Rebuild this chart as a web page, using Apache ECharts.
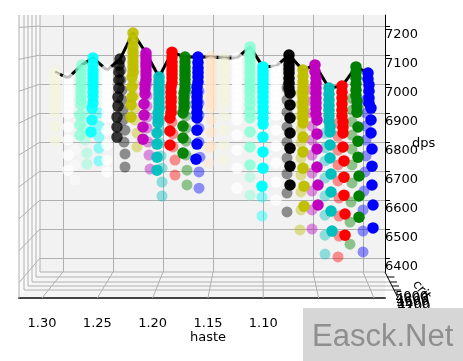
<!DOCTYPE html>
<html>
<head>
<meta charset="utf-8">
<style>
  html, body { margin: 0; padding: 0; background: #fff; }
  #chart { width: 463px; height: 361px; }
</style>
<script src="https://cdn.jsdelivr.net/npm/echarts@6/dist/echarts.min.js"></script>
</head>
<body>
<div id="chart"></div>
<script>
const hasteTicks = [1.3, 1.25, 1.2, 1.15, 1.1, 1.05, 1.0];
const dpsTicks = [6400, 6500, 6600, 6700, 6800, 6900, 7000, 7100, 7200];
const critTicks = ['5000', '4800', '4600', '4400', '4200'];

const columnColors = [
  '#f5f5dc', '#ffffff', '#7fffd4', '#00ffff', '#ffffff', '#000000', '#bfbf00', '#bf00bf', '#00bfbf',
  '#ff0000', '#008000', '#0000ff', '#ffe4c4', '#f5f5dc', '#ffffff', '#7fffd4', '#00ffff', '#ffffff',
  '#000000', '#bfbf00', '#bf00bf', '#00bfbf', '#ff0000', '#008000', '#0000ff'
];
const columnAlpha = [
  0.7, 0.75, 0.75, 0.9, 0.75, 0.78, 0.92, 0.95, 0.95, 1, 0.95, 1, 0.65,
  0.65, 0.75, 0.8, 1, 0.75, 0.98, 0.98, 1, 1, 1, 1, 1
];

// nearest points of each column, lowest first, the last one is the column's peak
const frontPoints = [
  [[1.308, 6807], [1.308, 6855], [1.308, 6903], [1.308, 6930], [1.308, 6952], [1.308, 6975], [1.308, 6997], [1.308, 7020], [1.308, 7041]],
  [[1.295, 6703], [1.295, 6755], [1.295, 6807], [1.295, 6852], [1.295, 6897], [1.295, 6918], [1.295, 6938], [1.295, 6958], [1.295, 6979], [1.295, 7000], [1.295, 7021]],
  [[1.283, 6824], [1.283, 6859], [1.283, 6893], [1.282, 6928], [1.282, 6945], [1.282, 6962], [1.282, 6980], [1.282, 6997], [1.282, 7014], [1.282, 7031], [1.282, 7048], [1.281, 7066]],
  [[1.272, 6835], [1.271, 6876], [1.271, 6917], [1.27, 6936], [1.27, 6955], [1.27, 6972], [1.27, 6990], [1.27, 7005], [1.27, 7021], [1.27, 7035], [1.27, 7048], [1.27, 7069], [1.27, 7090]],
  [[1.256, 6697], [1.256, 6738], [1.256, 6790], [1.256, 6841], [1.256, 6883], [1.256, 6904], [1.256, 6924], [1.256, 6945], [1.256, 6966], [1.256, 6986], [1.256, 7007], [1.256, 7028], [1.256, 7048]],
  [[1.246, 6817], [1.246, 6852], [1.246, 6886], [1.245, 6924], [1.245, 6955], [1.244, 6986], [1.244, 7014], [1.244, 7041], [1.244, 7066], [1.243, 7086]],
  [[1.232, 6886], [1.232, 6928], [1.231, 6955], [1.231, 6990], [1.231, 7024], [1.23, 7042], [1.23, 7059], [1.23, 7076], [1.23, 7093], [1.23, 7110], [1.23, 7128], [1.23, 7152], [1.23, 7176]],
  [[1.22, 6810], [1.22, 6852], [1.219, 6893], [1.219, 6931], [1.218, 6966], [1.218, 6984], [1.218, 7000], [1.217, 7016], [1.217, 7031], [1.217, 7045], [1.217, 7059], [1.217, 7071], [1.217, 7083], [1.217, 7095], [1.217, 7107]],
  [[1.206, 6703], [1.206, 6748], [1.206, 6793], [1.206, 6831], [1.205, 6866], [1.205, 6883], [1.205, 6900], [1.204, 6918], [1.204, 6935], [1.204, 6950], [1.204, 6966], [1.204, 6980], [1.204, 6993], [1.204, 7008], [1.204, 7024]],
  [[1.193, 6790], [1.193, 6838], [1.193, 6883], [1.192, 6902], [1.192, 6921], [1.192, 6938], [1.192, 6955], [1.192, 6972], [1.192, 6990], [1.191, 7005], [1.191, 7021], [1.191, 7035], [1.191, 7048], [1.191, 7062], [1.191, 7076], [1.191, 7093], [1.191, 7110]],
  [[1.18, 6762], [1.18, 6814], [1.18, 6855], [1.18, 6900], [1.179, 6918], [1.179, 6935], [1.179, 6952], [1.179, 6969], [1.178, 6985], [1.178, 7000], [1.178, 7016], [1.178, 7031], [1.178, 7045], [1.178, 7059], [1.178, 7076], [1.178, 7093]],
  [[1.167, 6741], [1.166, 6793], [1.166, 6841], [1.166, 6883], [1.166, 6902], [1.166, 6921], [1.166, 6938], [1.166, 6955], [1.166, 6972], [1.166, 6990], [1.165, 7007], [1.165, 7024], [1.165, 7040], [1.165, 7055], [1.165, 7074], [1.165, 7093]],
  [[1.152, 6786], [1.152, 6835], [1.152, 6876], [1.152, 6917], [1.152, 6936], [1.152, 6955], [1.152, 6972], [1.152, 6990], [1.152, 7007], [1.152, 7024], [1.152, 7042], [1.152, 7059], [1.152, 7076], [1.152, 7093]],
  [[1.139, 6738], [1.139, 6790], [1.139, 6841], [1.139, 6890], [1.139, 6931], [1.139, 6952], [1.139, 6972], [1.139, 6993], [1.139, 7014], [1.139, 7034], [1.139, 7055], [1.139, 7072], [1.139, 7090]],
  [[1.126, 6641], [1.126, 6710], [1.126, 6772], [1.126, 6824], [1.126, 6876], [1.126, 6900], [1.126, 6924], [1.126, 6945], [1.126, 6966], [1.126, 6986], [1.126, 7007], [1.126, 7028], [1.126, 7048], [1.126, 7069], [1.126, 7090]],
  [[1.113, 6721], [1.113, 6783], [1.113, 6835], [1.113, 6883], [1.113, 6905], [1.113, 6928], [1.113, 6948], [1.113, 6969], [1.113, 6986], [1.113, 7003], [1.113, 7020], [1.113, 7038], [1.113, 7055], [1.113, 7072], [1.113, 7086], [1.113, 7100], [1.113, 7114], [1.113, 7128]],
  [[1.101, 6648], [1.1, 6710], [1.1, 6766], [1.1, 6817], [1.1, 6862], [1.1, 6883], [1.1, 6903], [1.1, 6920], [1.1, 6938], [1.1, 6955], [1.1, 6972], [1.1, 6988], [1.1, 7003], [1.1, 7017], [1.1, 7031], [1.1, 7045], [1.1, 7059]],
  [[1.087, 6600], [1.087, 6662], [1.087, 6728], [1.087, 6786], [1.087, 6841], [1.087, 6893], [1.087, 6916], [1.087, 6938], [1.087, 6958], [1.087, 6979], [1.087, 7000], [1.087, 7021], [1.087, 7042], [1.087, 7062]],
  [[1.073, 6652], [1.073, 6717], [1.073, 6779], [1.073, 6831], [1.073, 6883], [1.073, 6928], [1.073, 6969], [1.074, 6986], [1.074, 7003], [1.074, 7020], [1.074, 7038], [1.074, 7052], [1.074, 7066], [1.074, 7083], [1.074, 7100]],
  [[1.059, 6579], [1.059, 6648], [1.06, 6710], [1.06, 6766], [1.06, 6817], [1.06, 6866], [1.06, 6885], [1.06, 6903], [1.06, 6920], [1.06, 6938], [1.06, 6955], [1.06, 6972], [1.06, 6990], [1.06, 7007], [1.06, 7027], [1.06, 7048]],
  [[1.045, 6583], [1.045, 6652], [1.046, 6714], [1.046, 6776], [1.046, 6828], [1.046, 6876], [1.047, 6896], [1.047, 6917], [1.047, 6935], [1.047, 6952], [1.047, 6969], [1.047, 6986], [1.047, 7003], [1.047, 7021], [1.048, 7043], [1.048, 7066]],
  [[1.031, 6493], [1.032, 6562], [1.032, 6628], [1.032, 6690], [1.033, 6745], [1.033, 6790], [1.033, 6835], [1.033, 6853], [1.034, 6872], [1.034, 6891], [1.034, 6910], [1.034, 6927], [1.034, 6945], [1.034, 6965], [1.034, 6986]],
  [[1.018, 6479], [1.018, 6552], [1.019, 6617], [1.019, 6679], [1.019, 6735], [1.02, 6783], [1.02, 6831], [1.02, 6850], [1.02, 6869], [1.021, 6890], [1.021, 6910], [1.021, 6931], [1.021, 6952], [1.021, 6972], [1.021, 6993]],
  [[1.004, 6541], [1.004, 6614], [1.004, 6683], [1.005, 6748], [1.005, 6803], [1.005, 6852], [1.006, 6903], [1.006, 6922], [1.006, 6941], [1.007, 6960], [1.007, 6979], [1.007, 7000], [1.007, 7021], [1.007, 7040], [1.007, 7059]],
  [[0.99, 6504], [0.99, 6583], [0.991, 6652], [0.991, 6717], [0.991, 6776], [0.992, 6831], [0.992, 6876], [0.992, 6917], [0.994, 6934], [0.994, 6952], [0.994, 6975], [0.994, 6997], [0.995, 7017], [0.995, 7038]]
];

// the paler points behind them
const backPoints = [
  [],
  [[1.288, 6669], [1.288, 6721], [1.288, 6772]],
  [[1.276, 6724], [1.276, 6762], [1.278, 6807], [1.278, 6848], [1.278, 6890]],
  [[1.264, 6735], [1.264, 6779], [1.264, 6817], [1.264, 6855], [1.264, 6900]],
  [],
  [[1.238, 6714], [1.238, 6759], [1.239, 6800], [1.238, 6841], [1.24, 6876], [1.24, 6910], [1.241, 6945], [1.241, 6979], [1.242, 7014], [1.242, 7048]],
  [[1.226, 6783], [1.226, 6831], [1.228, 6876], [1.228, 6917], [1.229, 6959], [1.229, 7000], [1.229, 7041]],
  [[1.213, 6707], [1.214, 6755], [1.215, 6800], [1.216, 6848], [1.216, 6886], [1.216, 6924], [1.216, 6960], [1.216, 7000]],
  [[1.201, 6614], [1.201, 6662], [1.201, 6710], [1.202, 6752], [1.203, 6797], [1.203, 6838], [1.203, 6876], [1.203, 6915]],
  [[1.188, 6686], [1.188, 6738], [1.19, 6783], [1.19, 6828], [1.191, 6869], [1.191, 6905], [1.191, 6945]],
  [[1.176, 6652], [1.176, 6703], [1.177, 6755], [1.177, 6803], [1.177, 6848], [1.177, 6890], [1.177, 6930], [1.177, 6970]],
  [[1.164, 6641], [1.164, 6697], [1.163, 6748], [1.164, 6800], [1.164, 6848], [1.164, 6893], [1.164, 6935], [1.164, 6975]],
  [[1.154, 6728], [1.154, 6779]],
  [],
  [],
  [[1.113, 6617], [1.113, 6679]],
  [[1.101, 6545], [1.101, 6610]],
  [],
  [[1.076, 6559], [1.076, 6624], [1.076, 6690], [1.076, 6745], [1.076, 6800], [1.076, 6852], [1.076, 6903], [1.076, 6945], [1.076, 6986]],
  [[1.063, 6497], [1.062, 6566], [1.062, 6628], [1.062, 6686], [1.062, 6745], [1.062, 6797], [1.062, 6845], [1.062, 6890], [1.062, 6930], [1.062, 6970]],
  [[1.051, 6500], [1.051, 6566], [1.051, 6631], [1.051, 6693], [1.051, 6755], [1.051, 6807], [1.051, 6855], [1.051, 6900], [1.051, 6940], [1.051, 6980]],
  [[1.038, 6414], [1.038, 6479], [1.038, 6548], [1.038, 6614], [1.038, 6676], [1.038, 6735], [1.038, 6780], [1.038, 6830]],
  [[1.025, 6404], [1.024, 6476], [1.024, 6545], [1.024, 6607], [1.025, 6666], [1.025, 6721], [1.025, 6772], [1.025, 6820], [1.025, 6865]],
  [[1.013, 6448], [1.013, 6524], [1.012, 6593], [1.011, 6659], [1.011, 6721], [1.011, 6776], [1.011, 6824], [1.011, 6870], [1.011, 6910], [1.011, 6950]],
  [[1.0, 6421], [1.0, 6493], [1.0, 6566], [0.999, 6631], [0.998, 6697], [0.997, 6752], [0.997, 6807], [0.997, 6855], [0.997, 6900], [0.997, 6945]]
];

const gridColor = '#b0b0b0';
const wallLeft = 40, wallRight = 385, wallTop = 15, wallBottom = 272;
const frontLeft = 19, frontBottom = 298;
const floorRows = [[36, 277], [32, 282], [28, 286], [24, 290]];

const chart = echarts.init(document.getElementById('chart'));

const series = [{
  type: 'line',
  xAxisIndex: 0,
  yAxisIndex: 0,
  data: frontPoints.map(pts => pts[pts.length - 1]),
  symbol: 'none',
  lineStyle: { color: '#000', width: 3 },
  animation: false,
  z: 2
}];
backPoints.forEach((pts, i) => {
  series.push({
    type: 'scatter',
    data: pts,
    symbolSize: 11,
    itemStyle: { color: columnColors[i], opacity: 0.42 },
    animation: false,
    silent: true,
    z: 3
  });
});
frontPoints.forEach((pts, i) => {
  series.push({
    type: 'scatter',
    data: pts,
    symbolSize: 11.5,
    itemStyle: { color: columnColors[i], opacity: columnAlpha[i] },
    animation: false,
    silent: true,
    z: 4
  });
});

chart.setOption({
  animation: false,
  textStyle: { fontFamily: 'DejaVu Sans' },
  grid: [
    { left: wallLeft, right: 463 - wallRight, top: wallTop, bottom: 361 - wallBottom },
    { left: frontLeft, right: 463 - wallRight, top: wallBottom, bottom: 361 - frontBottom }
  ],
  xAxis: [
    {
      type: 'value',
      gridIndex: 0,
      inverse: true,
      min: 0.978,
      max: 1.323,
      axisLine: { show: false },
      axisTick: { show: false, customValues: hasteTicks },
      axisLabel: { show: false, customValues: hasteTicks },
      splitLine: { show: true, lineStyle: { color: gridColor, width: 1 } }
    },
    {
      type: 'value',
      gridIndex: 1,
      inverse: true,
      min: 0.99,
      max: 1.3208,
      name: 'haste',
      nameLocation: 'middle',
      nameGap: 32,
      nameTextStyle: { color: '#000', fontSize: 13, padding: [0, 0, 0, 12] },
      axisLine: { show: true, onZero: false, lineStyle: { color: '#444', width: 2 } },
      axisTick: { show: false, customValues: hasteTicks },
      axisLabel: {
        color: '#000',
        fontSize: 13,
        margin: 19,
        customValues: hasteTicks,
        formatter: v => v.toFixed(2)
      },
      splitLine: { show: false }
    }
  ],
  yAxis: [
    {
      type: 'value',
      gridIndex: 0,
      position: 'right',
      min: 6352,
      max: 7238,
      name: 'dps',
      nameLocation: 'middle',
      nameRotate: 0,
      nameGap: 27,
      nameMoveOverlap: false,
      nameTextStyle: { color: '#000', fontSize: 13 },
      axisLine: { show: true, onZero: false, lineStyle: { color: '#000', width: 1 } },
      axisTick: { show: true, length: 5, customValues: dpsTicks, lineStyle: { color: '#000' } },
      axisLabel: {
        color: '#000',
        fontSize: 13,
        margin: 0,
        verticalAlign: 'top',
        padding: [2, 0, 0, 0],
        customValues: dpsTicks,
        formatter: v => String(v)
      },
      splitLine: { show: true, lineStyle: { color: gridColor, width: 1 } }
    },
    {
      type: 'value',
      gridIndex: 1,
      min: 0,
      max: 1,
      axisLine: { show: false },
      axisTick: { show: false },
      axisLabel: { show: false },
      splitLine: { show: false }
    }
  ],
  series: series
});

// the 3D box around the plot, hung off the two haste and the dps axes
const frame = [];
const frameLine = (x1, y1, x2, y2, color, z) => frame.push({
  type: 'line',
  silent: true,
  z: z === undefined ? 1 : z,
  shape: { x1: x1, y1: y1, x2: x2, y2: y2 },
  style: { stroke: color || gridColor, lineWidth: 1 }
});

frame.push({ type: 'polygon', silent: true, z: -2,
  shape: { points: [[frontLeft, wallTop], [wallLeft, wallTop], [wallLeft, wallBottom], [frontLeft, frontBottom]] },
  style: { fill: '#f9f9f9' } });
frame.push({ type: 'rect', silent: true, z: -2,
  shape: { x: wallLeft, y: wallTop, width: wallRight - wallLeft, height: wallBottom - wallTop },
  style: { fill: '#f2f2f2' } });
frame.push({ type: 'polygon', silent: true, z: -2,
  shape: { points: [[wallLeft, wallBottom], [wallRight, wallBottom], [wallRight, frontBottom], [frontLeft, frontBottom]] },
  style: { fill: '#f5f5f5' } });

hasteTicks.forEach(h => {
  const back = chart.convertToPixel({ xAxisIndex: 0 }, h);
  const front = chart.convertToPixel({ xAxisIndex: 1 }, h);
  frameLine(back, wallBottom, front, frontBottom);
});
dpsTicks.forEach(d => {
  const y = chart.convertToPixel({ yAxisIndex: 0 }, d);
  frameLine(wallLeft, y, frontLeft, frontBottom - (wallBottom - y) * 1.1 - 0);
});
frameLine(frontLeft, wallTop, frontLeft, frontBottom);
frameLine(wallLeft, wallTop, wallLeft, wallBottom);
frameLine(wallLeft, wallBottom, wallRight, wallBottom);
floorRows.forEach(r => {
  frameLine(r[0], wallTop, r[0], r[1]);
  frameLine(r[0], r[1], wallRight + (r[1] - wallBottom) / 2, r[1]);
});

// crit axis, squeezed into the corner
frameLine(wallRight, wallBottom, 398, frontBottom, '#000');
floorRows.forEach(r => {
  const ax = wallRight + (r[1] - wallBottom) / 2;
  frameLine(ax, r[1], ax + 7, r[1], '#000');
});
critTicks.forEach((t, i) => {
  frame.push({ type: 'text', silent: true, z: 5,
    x: 395 + i * 0.6, y: 290 + i * 2.6,
    style: { text: t, fill: '#000', font: '13px "DejaVu Sans"' } });
});
frame.push({ type: 'text', silent: true, z: 5,
  x: 420, y: 278, rotation: -0.9,
  style: { text: 'crit', fill: '#000', font: '13px "DejaVu Sans"' } });

// watermark in the corner of the picture
frame.push({ type: 'rect', silent: true, z: 100,
  shape: { x: 303, y: 308, width: 160, height: 53 },
  style: { fill: '#d6d6d6' } });
frame.push({ type: 'text', silent: true, z: 101,
  x: 312, y: 322,
  style: { text: 'Easck.Net', fill: '#8f8f8f', font: '31px "Liberation Sans"' } });

chart.setOption({ graphic: { elements: frame } });
</script>
</body>
</html>
